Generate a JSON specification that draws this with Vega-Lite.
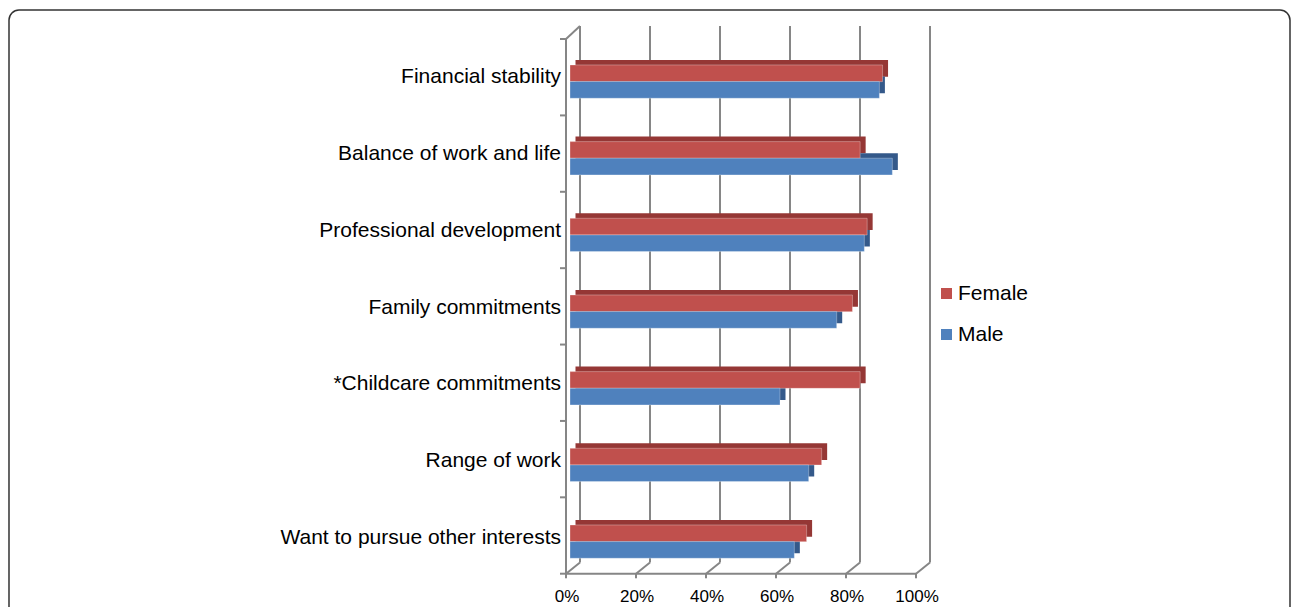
{
  "$schema": "https://vega.github.io/schema/vega-lite/v6.json",
  "width": 1281,
  "height": 620,
  "autosize": {"type": "none"},
  "padding": {"left": 9, "top": 10, "right": 2, "bottom": 0},
  "config": {
    "view": {"stroke": "#333333", "strokeWidth": 1.5, "cornerRadius": 10},
    "font": "Liberation Sans",
    "axis": {"disable": true}
  },
  "resolve": {"scale": {"y": "independent"}},
  "layer": [
    {
      "data": {"values": [
        {"p": 0, "lab": "0%"}, {"p": 20, "lab": "20%"}, {"p": 40, "lab": "40%"},
        {"p": 60, "lab": "60%"}, {"p": 80, "lab": "80%"}, {"p": 100, "lab": "100%"}
      ]},
      "layer": [
        {
          "mark": {"type": "rule", "color": "#868686", "strokeWidth": 2, "xOffset": 10},
          "encoding": {
            "x": {"field": "p", "type": "quantitative", "axis": null, "scale": {"domain": [-160.286, 205.714], "nice": false, "zero": false}},
            "y": {"datum": 0.147, "type": "quantitative", "axis": null, "scale": {"domain": [-0.737, 7.38], "nice": false, "zero": false}},
            "y2": {"datum": 7.17}
          }
        },
        {
          "mark": {"type": "rule", "color": "#868686", "strokeWidth": 2, "xOffset": -4, "x2Offset": 10},
          "encoding": {
            "x": {"field": "p", "type": "quantitative", "axis": null, "scale": {"domain": [-160.286, 205.714], "nice": false, "zero": false}},
            "x2": {"field": "p"},
            "y": {"datum": 0, "type": "quantitative", "axis": null, "scale": {"domain": [-0.737, 7.38], "nice": false, "zero": false}},
            "y2": {"datum": 0.147}
          }
        },
        {
          "mark": {"type": "rule", "color": "#868686", "strokeWidth": 2, "xOffset": -4},
          "encoding": {
            "x": {"field": "p", "type": "quantitative", "axis": null, "scale": {"domain": [-160.286, 205.714], "nice": false, "zero": false}},
            "y": {"datum": 0, "type": "quantitative", "axis": null, "scale": {"domain": [-0.737, 7.38], "nice": false, "zero": false}},
            "y2": {"datum": -0.06}
          }
        },
        {
          "mark": {"type": "text", "fontSize": 17, "font": "Liberation Sans", "color": "#000000", "align": "center", "baseline": "alphabetic", "dx": -3},
          "encoding": {
            "x": {"field": "p", "type": "quantitative", "axis": null, "scale": {"domain": [-160.286, 205.714], "nice": false, "zero": false}},
            "y": {"datum": -0.375, "type": "quantitative", "axis": null, "scale": {"domain": [-0.737, 7.38], "nice": false, "zero": false}},
            "text": {"field": "lab"}
          }
        },
        {
          "data": {"values": [{"v": 0}, {"v": 1}, {"v": 2}, {"v": 3}, {"v": 4}, {"v": 5}, {"v": 6}, {"v": 7}]},
          "mark": {"type": "rule", "color": "#868686", "strokeWidth": 2, "xOffset": -10, "x2Offset": -4},
          "encoding": {
            "x": {"datum": 0, "type": "quantitative", "axis": null, "scale": {"domain": [-160.286, 205.714], "nice": false, "zero": false}},
            "x2": {"datum": 0},
            "y": {"field": "v", "type": "quantitative", "axis": null, "scale": {"domain": [-0.737, 7.38], "nice": false, "zero": false}}
          }
        },
        {
          "data": {"values": [{"k": 1}]},
          "mark": {"type": "rule", "color": "#868686", "strokeWidth": 2, "xOffset": -4},
          "encoding": {
            "x": {"datum": 0, "type": "quantitative", "axis": null, "scale": {"domain": [-160.286, 205.714], "nice": false, "zero": false}},
            "y": {"datum": 0, "type": "quantitative", "axis": null, "scale": {"domain": [-0.737, 7.38], "nice": false, "zero": false}},
            "y2": {"datum": 7}
          }
        },
        {
          "data": {"values": [{"k": 1}]},
          "mark": {"type": "rule", "color": "#868686", "strokeWidth": 2, "xOffset": -4, "x2Offset": -4},
          "encoding": {
            "x": {"datum": 0, "type": "quantitative", "axis": null, "scale": {"domain": [-160.286, 205.714], "nice": false, "zero": false}},
            "x2": {"datum": 100},
            "y": {"datum": 0, "type": "quantitative", "axis": null, "scale": {"domain": [-0.737, 7.38], "nice": false, "zero": false}}
          }
        },
        {
          "data": {"values": [{"k": 1}]},
          "mark": {"type": "rule", "color": "#868686", "strokeWidth": 2, "xOffset": -4, "x2Offset": 10},
          "encoding": {
            "x": {"datum": 0, "type": "quantitative", "axis": null, "scale": {"domain": [-160.286, 205.714], "nice": false, "zero": false}},
            "x2": {"datum": 0},
            "y": {"datum": 7, "type": "quantitative", "axis": null, "scale": {"domain": [-0.737, 7.38], "nice": false, "zero": false}},
            "y2": {"datum": 7.17}
          }
        }
      ]
    },
    {
      "data": {"values": [
        {"category": "Financial stability", "sex": "Female", "value": 89.3},
        {"category": "Financial stability", "sex": "Male", "value": 88.4},
        {"category": "Balance of work and life", "sex": "Female", "value": 82.9},
        {"category": "Balance of work and life", "sex": "Male", "value": 92.1},
        {"category": "Professional development", "sex": "Female", "value": 84.9},
        {"category": "Professional development", "sex": "Male", "value": 84.1},
        {"category": "Family commitments", "sex": "Female", "value": 80.7},
        {"category": "Family commitments", "sex": "Male", "value": 76.2},
        {"category": "*Childcare commitments", "sex": "Female", "value": 82.9},
        {"category": "*Childcare commitments", "sex": "Male", "value": 60.0},
        {"category": "Range of work", "sex": "Female", "value": 71.9},
        {"category": "Range of work", "sex": "Male", "value": 68.2},
        {"category": "Want to pursue other interests", "sex": "Female", "value": 67.6},
        {"category": "Want to pursue other interests", "sex": "Male", "value": 64.1}
      ]},
      "layer": [
        {
          "transform": [{"filter": "datum.sex === 'Female'"}],
          "mark": {"type": "bar", "color": "#953735", "height": 16.7, "xOffset": 5.5, "x2Offset": 5.5, "yOffset": -9.2},
          "encoding": {
            "x": {"field": "value", "type": "quantitative", "axis": null, "scale": {"domain": [-160.286, 205.714], "nice": false, "zero": false}},
            "x2": {"datum": 0},
            "y": {"field": "category", "type": "nominal", "axis": null, "sort": null, "scale": {"domain": ["Financial stability", "Balance of work and life", "Professional development", "Family commitments", "*Childcare commitments", "Range of work", "Want to pursue other interests"], "paddingInner": 0, "paddingOuter": 0.5433, "align": 0.35}}
          }
        },
        {
          "transform": [{"filter": "datum.sex === 'Male'"}],
          "mark": {"type": "bar", "color": "#34598A", "height": 16.7, "xOffset": 5.5, "x2Offset": 5.5, "yOffset": 7.4},
          "encoding": {
            "x": {"field": "value", "type": "quantitative", "axis": null, "scale": {"domain": [-160.286, 205.714], "nice": false, "zero": false}},
            "x2": {"datum": 0},
            "y": {"field": "category", "type": "nominal", "axis": null, "sort": null, "scale": {"domain": ["Financial stability", "Balance of work and life", "Professional development", "Family commitments", "*Childcare commitments", "Range of work", "Want to pursue other interests"], "paddingInner": 0, "paddingOuter": 0.5433, "align": 0.35}}
          }
        },
        {
          "transform": [{"filter": "datum.sex === 'Female'"}],
          "mark": {"type": "bar", "height": 16.7, "yOffset": -4.2, "stroke": "#ffffff", "strokeOpacity": 0.3, "strokeWidth": 1},
          "encoding": {
            "x": {"field": "value", "type": "quantitative", "axis": null, "scale": {"domain": [-160.286, 205.714], "nice": false, "zero": false}},
            "x2": {"datum": 0},
            "y": {"field": "category", "type": "nominal", "axis": null, "sort": null, "scale": {"domain": ["Financial stability", "Balance of work and life", "Professional development", "Family commitments", "*Childcare commitments", "Range of work", "Want to pursue other interests"], "paddingInner": 0, "paddingOuter": 0.5433, "align": 0.35}},
            "color": {"field": "sex", "type": "nominal", "scale": {"domain": ["Female", "Male"], "range": ["#C0504D", "#4F81BD"]},
              "legend": {"orient": "none", "legendX": 927, "legendY": 273, "title": null, "symbolType": "square", "symbolSize": 121, "symbolStrokeWidth": 0, "labelFontSize": 21, "labelFont": "Liberation Sans", "labelColor": "#000000", "rowPadding": 19, "labelOffset": 1, "padding": 0}}
          }
        },
        {
          "transform": [{"filter": "datum.sex === 'Male'"}],
          "mark": {"type": "bar", "height": 16.7, "yOffset": 12.4, "stroke": "#ffffff", "strokeOpacity": 0.3, "strokeWidth": 1},
          "encoding": {
            "x": {"field": "value", "type": "quantitative", "axis": null, "scale": {"domain": [-160.286, 205.714], "nice": false, "zero": false}},
            "x2": {"datum": 0},
            "y": {"field": "category", "type": "nominal", "axis": null, "sort": null, "scale": {"domain": ["Financial stability", "Balance of work and life", "Professional development", "Family commitments", "*Childcare commitments", "Range of work", "Want to pursue other interests"], "paddingInner": 0, "paddingOuter": 0.5433, "align": 0.35}},
            "color": {"field": "sex", "type": "nominal"}
          }
        },
        {
          "transform": [{"filter": "datum.sex === 'Female'"}],
          "mark": {"type": "text", "fontSize": 21, "font": "Liberation Sans", "color": "#000000", "align": "right", "baseline": "middle", "dx": -9},
          "encoding": {
            "x": {"datum": 0, "type": "quantitative", "axis": null, "scale": {"domain": [-160.286, 205.714], "nice": false, "zero": false}},
            "y": {"field": "category", "type": "nominal", "axis": null, "sort": null, "scale": {"domain": ["Financial stability", "Balance of work and life", "Professional development", "Family commitments", "*Childcare commitments", "Range of work", "Want to pursue other interests"], "paddingInner": 0, "paddingOuter": 0.5433, "align": 0.35}},
            "text": {"field": "category"}
          }
        }
      ]
    }
  ]
}
